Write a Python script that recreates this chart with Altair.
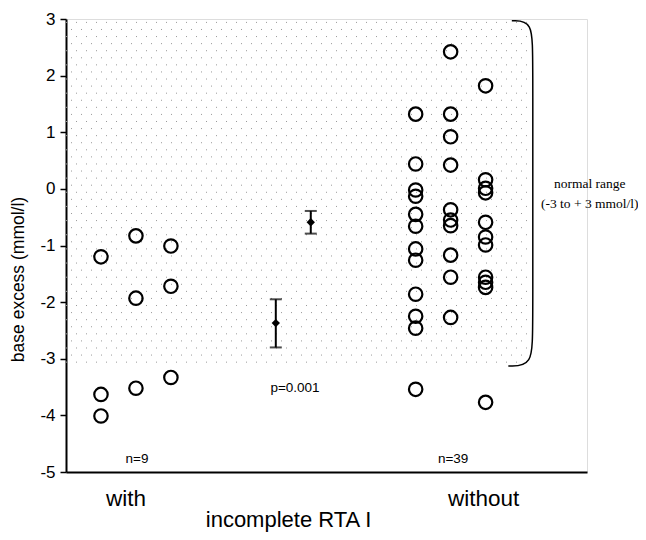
import altair as alt
import pandas as pd

# ---- values (base excess, mmol/l) ----
with_col1 = [-1.2, -3.63, -4.01]
with_col2 = [-0.83, -1.93, -3.52]
with_col3 = [-1.01, -1.72, -3.33]
without_col1 = [1.32, 0.44, -0.02, -0.13, -0.45, -0.66, -1.06, -1.26, -1.86, -2.25, -2.46, -3.54]
without_col2 = [2.42, 1.32, 0.92, 0.42, -0.37, -0.55, -0.65, -1.17, -1.56, -2.27]
without_col3 = [1.82, 0.16, 0.01, -0.07, -0.59, -0.85, -0.99, -1.56, -1.65, -1.74, -3.77]

groups = ["with", "without"]
means = [-2.37, -0.59]
err_low = [-2.8, -0.79]
err_high = [-1.95, -0.39]

normal_low = -3.1
normal_high = 3.0

y_ticks = [-5, -4, -3, -2, -1, 0, 1, 2, 3]

ann_text = ["n=9", "n=39", "p=0.001"]
range_text = ["normal range", "(-3 to + 3 mmol/l)"]

# ---- layout slots along x (column order) ----
col_slots = [1, 2, 3, 10, 11, 12]
mean_slots = [6, 7]
label_slots = [1.7, 11.93]
ann_slots = [2.03, 11.07, 6.55]
ann_y = [-4.77, -4.77, -3.52]
range_slot = 14.98
range_y = [0.08, -0.27]
shade_right = 13.2
brace_x = 13.35

cols = [with_col1, with_col2, with_col3, without_col1, without_col2, without_col3]
rows = []
for s, col in zip(col_slots, cols):
    for v in col:
        rows.append({"slot": s, "value": v})
pts = pd.DataFrame(rows)

means_df = pd.DataFrame({"slot": mean_slots, "mean": means, "lo": err_low, "hi": err_high})
ann_df = pd.DataFrame({"slot": ann_slots, "value": ann_y, "text": ann_text})
range_df = pd.DataFrame({"slot": [range_slot] * 2, "value": range_y, "text": range_text})
brace_df = pd.DataFrame({
    "slot": [12.75, brace_x, brace_x, brace_x, brace_x, 12.65],
    "value": [2.97, 2.97, 2.3, -2.45, normal_low - 0.03, normal_low - 0.03],
    "order": [0, 1, 2, 3, 4, 5],
})

FONT = "Liberation Sans"
xscale = alt.Scale(domain=[0, 14.9], nice=False, zero=False)
yscale = alt.Scale(domain=[-5, 3], nice=False, zero=False)

xaxis = alt.Axis(
    values=label_slots,
    labelExpr="datum.value < 5 ? 'with' : 'without'",
    ticks=False, tickSize=0, grid=False,
    domainColor="black", domainWidth=2,
    labelFontSize=22.5, labelFont=FONT, labelColor="black", labelPadding=15,
    labelFlush=False,
    title="incomplete RTA I", titleFont=FONT, titleFontSize=22, titleFontWeight="normal",
    titleColor="black", titleX=222, titleY=54, titleBaseline="alphabetic", titleAlign="center",
)
yaxis = alt.Axis(
    values=y_ticks, grid=False,
    labelExpr="'' + datum.value",
    tickSize=6, tickWidth=1.5, tickColor="black",
    domainColor="black", domainWidth=2,
    labelFontSize=17, labelFont=FONT, labelColor="black", labelPadding=5,
    title="base excess (mmol/l)", titleFont=FONT, titleFontSize=17.5, titleFontWeight="normal",
    titleColor="black", titleX=-47.5, titleY=260, titleBaseline="middle", titleAlign="center",
)


def X(f):
    return alt.X(f, type="quantitative", scale=xscale, axis=xaxis)


def Y(f):
    return alt.Y(f, type="quantitative", scale=yscale, axis=yaxis)


dots_a = alt.Chart(alt.sequence(-3.06, 3.0, 0.25, as_="v")).transform_calculate(
    x0="0", x1=str(shade_right)
).mark_rule(strokeDash=[1, 9], color="#9a9a9a", strokeWidth=1).encode(
    x=X("x0"), x2="x1:Q", y=Y("v")
)
dots_b = alt.Chart(alt.sequence(-2.935, 3.0, 0.25, as_="v")).transform_calculate(
    x0="0", x1=str(shade_right)
).mark_rule(strokeDash=[1, 9], strokeDashOffset=5, color="#9a9a9a", strokeWidth=1).encode(
    x=X("x0"), x2="x1:Q", y=Y("v")
)

brace = alt.Chart(brace_df).mark_line(color="black", strokeWidth=1.5, interpolate="basis").encode(
    x=X("slot"), y=Y("value"), order="order:Q"
)

points = alt.Chart(pts).mark_point(
    shape="circle", filled=False, color="black", strokeWidth=2.2, size=180, opacity=1
).encode(x=X("slot"), y=Y("value"))

err_rule = alt.Chart(means_df).mark_rule(color="black", strokeWidth=2).encode(
    x=X("slot"), y=Y("lo"), y2="hi:Q"
)
cap_lo = alt.Chart(means_df).mark_tick(color="black", orient="horizontal", size=12, thickness=2).encode(
    x=X("slot"), y=Y("lo")
)
cap_hi = alt.Chart(means_df).mark_tick(color="black", orient="horizontal", size=12, thickness=2).encode(
    x=X("slot"), y=Y("hi")
)
diamond = alt.Chart(means_df).mark_point(shape="diamond", filled=True, color="black", size=70, opacity=1).encode(
    x=X("slot"), y=Y("mean")
)

ann = alt.Chart(ann_df).mark_text(font=FONT, fontSize=13.5, color="black", align="center", baseline="middle").encode(
    x=X("slot"), y=Y("value"), text="text:N"
)
rng = alt.Chart(range_df).mark_text(font="Liberation Serif", fontSize=13.5, color="black", align="center", baseline="middle").encode(
    x=X("slot"), y=Y("value"), text="text:N"
)

chart = alt.layer(
    dots_a, dots_b, brace, points, err_rule, cap_lo, cap_hi, diamond, ann, rng
).properties(
    width=521, height=453,
    autosize=alt.AutoSizeParams(type="none"),
    padding={"left": 58, "top": 11, "right": 51, "bottom": 60},
).configure_view(stroke=None).configure(background="white")

chart.save("out.html", embed_options={"renderer": "svg", "actions": False})
